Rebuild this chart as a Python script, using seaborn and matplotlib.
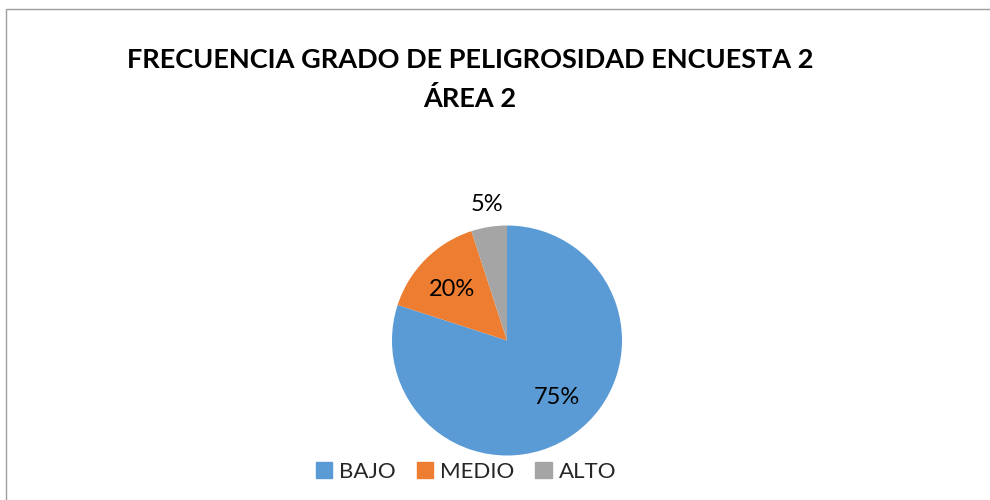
import matplotlib
matplotlib.use("Agg")
import matplotlib.pyplot as plt
import matplotlib.patches as mpatches
import seaborn as sns
import numpy as np

categories = ["BAJO", "MEDIO", "ALTO"]
values = [80, 15, 5]
labels = ["75%", "20%", "5%"]
colors = ["#5B9BD5", "#ED7D31", "#A5A5A5"]
title = "FRECUENCIA GRADO DE PELIGROSIDAD ENCUESTA 2\nÁREA 2"

sns.set_theme(style="white")
plt.rcParams['font.family'] = ['Lato', 'DejaVu Sans']

W, H = 990, 500
fig = plt.figure(figsize=(W / 100, H / 100), dpi=100)

# border (right and bottom edges fall outside the image)
fig.patches.append(mpatches.Rectangle((5.5 / W, -0.1), 1.2, 1.1 - 9.5 / H,
                                      transform=fig.transFigure, fill=False,
                                      edgecolor="#9E9E9E", linewidth=1.0))

cx, cy, r = 507, 340.5, 115
half = 150
ax = fig.add_axes([(cx - half) / W, (H - cy - half) / H, 2 * half / W, 2 * half / H])

wedges, _ = ax.pie(values, colors=colors, startangle=90, counterclock=False, radius=1,
                   wedgeprops=dict(linewidth=0))
lim = half / r
ax.set_xlim(-lim, lim)
ax.set_ylim(-lim, lim)
ax.set_aspect("equal")
ax.axis("off")

label_pos = [(0.43, -0.50), (-0.48, 0.44), (-0.17, 1.18)]
for (x, y), lab in zip(label_pos, labels):
    ax.text(x, y, lab, ha="center", va="center", fontsize=17, color="#000000")

fig.text(470 / W, 1 - 79.5 / H, title, ha="center", va="center", fontsize=19.5,
         fontweight="bold", linespacing=1.66, color="#000000")

handles = [mpatches.Patch(color=c, label=l) for c, l in zip(colors, categories)]
fig.legend(handles=handles, loc="center", bbox_to_anchor=(466 / W, 1 - 472 / H),
           ncol=3, frameon=False, fontsize=16, handlelength=0.75, handleheight=0.75,
           handletextpad=0.3, columnspacing=0.95)

fig.savefig("out.png", dpi=100)
